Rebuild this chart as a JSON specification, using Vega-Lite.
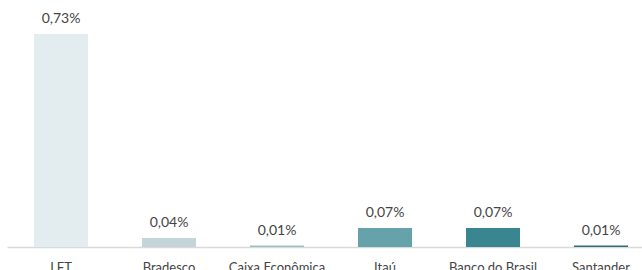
{
  "$schema": "https://vega.github.io/schema/vega-lite/v6.json",
  "width": 635,
  "height": 213,
  "autosize": {"type": "none"},
  "padding": {"left": 7, "top": 34, "right": 0, "bottom": 23},
  "background": "white",
  "config": {"view": {"stroke": null}, "font": "Lato"},
  "data": {"values": [
    {"banco": "LFT", "valor": 0.73, "rotulo": "0,73%", "cor": "#e3ecee"},
    {"banco": "Bradesco", "valor": 0.031, "rotulo": "0,04%", "cor": "#c3d5d9"},
    {"banco": "Caixa Econômica", "valor": 0.005, "rotulo": "0,01%", "cor": "#9bbfc4"},
    {"banco": "Itaú", "valor": 0.065, "rotulo": "0,07%", "cor": "#66a2aa"},
    {"banco": "Banco do Brasil", "valor": 0.065, "rotulo": "0,07%", "cor": "#3a8690"},
    {"banco": "Santander", "valor": 0.005, "rotulo": "0,01%", "cor": "#2e6e76"}
  ]},
  "encoding": {
    "x": {"field": "banco", "type": "nominal", "sort": null,
      "scale": {"range": [0, 648], "paddingInner": 0.5, "paddingOuter": 0.25},
      "axis": {"title": null, "labelAngle": 0, "ticks": false, "domainColor": "#d9d9d9", "domainWidth": 1.5,
        "labelFontSize": 13, "labelColor": "#444444", "labelPadding": 14, "labelBaseline": "top"}},
    "y": {"field": "valor", "type": "quantitative",
      "scale": {"domain": [0, 0.73], "nice": false}, "axis": null}
  },
  "layer": [
    {"mark": {"type": "bar"}, "encoding": {"color": {"field": "cor", "type": "nominal", "scale": null}}},
    {"mark": {"type": "text", "baseline": "bottom", "dy": -8, "fontSize": 14, "color": "#444444"},
     "encoding": {"text": {"field": "rotulo"}}}
  ]
}
